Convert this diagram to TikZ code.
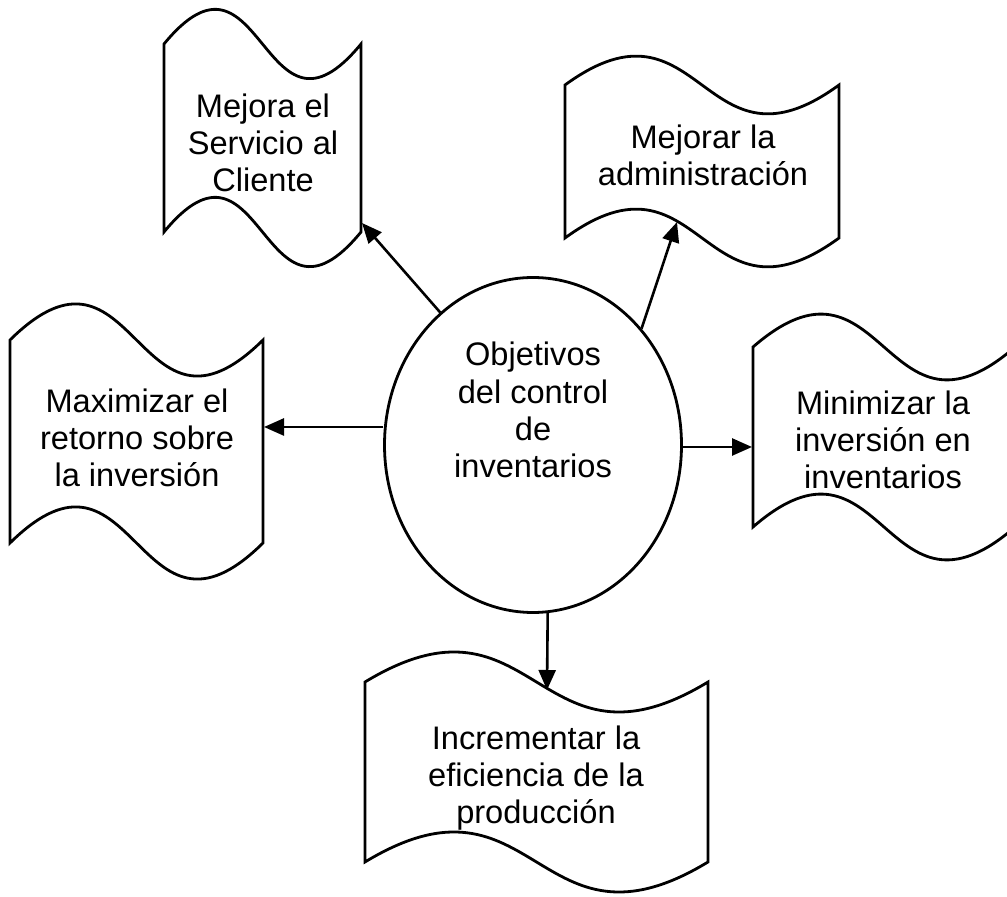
\documentclass[tikz,border=0pt]{standalone}
\usepackage{fontspec}
\setmainfont{Liberation Sans}
\usetikzlibrary{shapes.geometric,arrows.meta}

% cinta ondulada: x, y (esquina sup. izq.), ancho, alto, onda
\newcommand{\cinta}[5]{%
  \draw[shift={(#1,#2)}, xscale=#3] (0,0) .. controls (0.5,-#5) and (0.5,#5) .. (1,0)
    -- (1,#4) .. controls (0.5,#4+#5) and (0.5,#4-#5) .. (0,#4) -- cycle;}

\tikzset{
  texto/.style={align=center, font=\fontsize{16.3}{18.6}\selectfont, inner sep=0pt},
  flecha/.style={-{Triangle[length=10pt,width=8.5pt]}, line width=1.3pt}
}

\begin{document}
\begin{tikzpicture}[x=0.5pt, y=-0.5pt, line width=1.4pt]
\useasboundingbox (0,0) rectangle (1007,897);

%\draw[gray] (0,0) rectangle (1007,897);

\cinta{164}{44}{197}{188}{120}
\cinta{565}{85}{274}{153}{100}
\cinta{10}{340}{253}{203}{125}
\cinta{753}{347}{262}{180}{114}
\cinta{365}{682}{343}{180}{104}

\node[draw, ellipse, inner sep=0pt, minimum width=148.5pt, minimum height=167.5pt] (obj) at (533,445) {};
\node[texto] (objtxt) at (533,410) {Objetivos\\del control\\de\\inventarios};

\node[texto] (serv) at (263,143) {Mejora el\\Servicio al\\Cliente};
\node[texto] (admin) at (703,155) {Mejorar la\\administración};
\node[texto] (maxi) at (137,438) {Maximizar el\\retorno sobre\\la inversión};
\node[texto] (mini) at (883,440) {Minimizar la\\inversión en\\inventarios};
\node[texto] (incr) at (536,778) {Incrementar la\\eficiencia de la\\producción};

\coordinate (servfin) at (362,223);
\coordinate (adminfin) at (677,222);
\coordinate (maxifin) at (264,427);
\coordinate (minifin) at (752,447);
\coordinate (incrfin) at (547,690);

\draw[flecha] (obj.125) -- (servfin);
\draw[flecha] (obj.47) -- (adminfin);
\draw[flecha] (obj.west |- maxifin) -- (maxifin);
\draw[flecha] (obj.east |- minifin) -- (minifin);
\draw[flecha] (obj.-85) -- (incrfin);
\end{tikzpicture}
\end{document}
